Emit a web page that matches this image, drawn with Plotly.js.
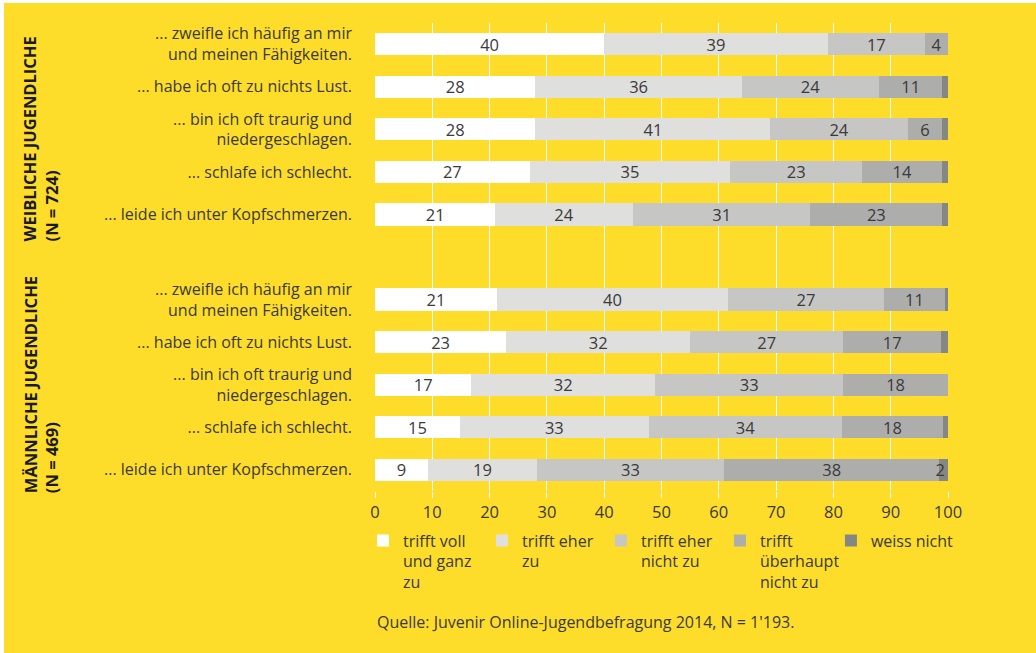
<!DOCTYPE html>
<html><head><meta charset="utf-8">
<script src="https://cdn.plot.ly/plotly-3.0.1.min.js"></script>
<style>html,body{margin:0;padding:0;background:#fff;overflow:hidden;} #chart{position:absolute;left:4px;top:3px;width:1032px;height:650px;}</style>
</head><body><div id="chart"></div><script>
// Row ids (categorical y axis), with one empty spacer row between the two groups
const rowIds = ['w1','w2','w3','w4','w5','gap','m1','m2','m3','m4','m5'];
const rowLabels = [
  '... zweifle ich häufig an mir<br>und meinen Fähigkeiten.',
  '... habe ich oft zu nichts Lust.',
  '... bin ich oft traurig und<br>niedergeschlagen.',
  '... schlafe ich schlecht.',
  '... leide ich unter Kopfschmerzen.',
  '',
  '... zweifle ich häufig an mir<br>und meinen Fähigkeiten.',
  '... habe ich oft zu nichts Lust.',
  '... bin ich oft traurig und<br>niedergeschlagen.',
  '... schlafe ich schlecht.',
  '... leide ich unter Kopfschmerzen.'
];
const seriesNames = ['trifft voll<br>und ganz<br>zu','trifft eher<br>zu','trifft eher<br>nicht zu','trifft<br>überhaupt<br>nicht zu','weiss nicht'];
// values in percent (female rows, spacer, male rows)
const trifftVoll      = [40, 28, 28, 27, 21, null, 21.3, 22.9, 16.8, 14.8, 9.2];
const trifftEher      = [39, 36, 41, 35, 24, null, 40.3, 32.1, 32.1, 33.0, 19.1];
const trifftEherNicht = [17, 24, 24, 23, 31, null, 27.2, 26.7, 32.8, 33.7, 32.6];
const trifftUeberhaupt= [4, 11, 6, 14, 23, null, 10.7, 17.1, 18.3, 17.6, 37.6];
const weissNicht      = [0, 1, 1, 1, 1, null, 0.5, 1.2, 0, 0.9, 1.5];
const xTicks = [0,10,20,30,40,50,60,70,80,90,100];
const groupLabels = ['<b>WEIBLICHE JUGENDLICHE<br>(N = 724)</b>','<b>MÄNNLICHE JUGENDLICHE<br>(N = 469)</b>'];
const sourceText = "Quelle: Juvenir Online-Jugendbefragung 2014, N = 1'193.";

const colors = ['#ffffff','#dfdfdd','#c6c6c4','#adadab','#858784'];
const series = [trifftVoll, trifftEher, trifftEherNicht, trifftUeberhaupt, weissNicht];
const FONT = '"Open Sans", "DejaVu Sans", sans-serif';
const TXT = '#3a3a3a';

const traces = series.map((vals, i) => ({
  type: 'bar', orientation: 'h',
  name: seriesNames[i],
  legend: i === 4 ? 'legend2' : 'legend',
  y: rowIds, x: vals,
  marker: {color: colors[i], line: {width: 0}},
  text: vals.map(v => (v == null || v < 1.5) ? '' : String(Math.round(v))),
  texttemplate: '%{text}',
  textposition: 'inside',
  textangle: 0,
  insidetextanchor: i === 4 ? 'end' : 'middle',
  constraintext: 'none',
  cliponaxis: false,
  textfont: {family: FONT, size: 16.5, color: TXT},
  hoverinfo: 'skip'
}));

const legendBase = {
  orientation: 'h', xanchor: 'left', y: -0.0695, yanchor: 'top',
  valign: 'top', bgcolor: 'rgba(0,0,0,0)', traceorder: 'normal',
  font: {family: FONT, size: 16, color: TXT}
};

const layout = {
  width: 1032, height: 650,
  paper_bgcolor: '#fedc2a', plot_bgcolor: '#fedc2a',
  barmode: 'stack', bargap: 0.48,
  margin: {l: 371, r: 88, t: 20, b: 162},
  font: {family: FONT, color: TXT},
  showlegend: true,
  legend: Object.assign({}, legendBase, {x: -0.021, entrywidth: 74, entrywidthmode: 'pixels'}),
  legend2: Object.assign({}, legendBase, {x: 0.7957}),
  xaxis: {
    range: [0, 100], tickvals: xTicks, showgrid: true, gridcolor: '#ffffff', gridwidth: 1,
    zeroline: false, showline: false, ticks: 'outside', ticklen: 6, tickcolor: '#ffffff',
    tickfont: {family: FONT, size: 16.5, color: TXT}, fixedrange: true
  },
  yaxis: {
    type: 'category', categoryorder: 'array', categoryarray: rowIds,
    autorange: 'reversed', tickvals: rowIds, ticktext: rowLabels,
    showgrid: false, zeroline: false, showline: false, ticks: '', ticklen: 0,
    ticklabelstandoff: 22,
    tickfont: {family: FONT, size: 16, color: TXT}, fixedrange: true, automargin: false
  },
  annotations: [
    {text: groupLabels[0], textangle: -90, xref: 'paper', yref: 'paper', x: -0.584, y: 0.752,
     xanchor: 'center', yanchor: 'middle', align: 'left', showarrow: false,
     font: {family: FONT, size: 16.5, color: '#1a1a1a'}},
    {text: groupLabels[1], textangle: -90, xref: 'paper', yref: 'paper', x: -0.584, y: 0.227,
     xanchor: 'center', yanchor: 'middle', align: 'left', showarrow: false,
     font: {family: FONT, size: 16.5, color: '#1a1a1a'}},
    {text: sourceText, xref: 'paper', yref: 'paper', x: 0, y: -0.28, xanchor: 'left', yanchor: 'middle',
     showarrow: false, font: {family: FONT, size: 16, color: TXT}}
  ],
  hovermode: false
};

Plotly.newPlot('chart', traces, layout, {displayModeBar: false, staticPlot: true});
</script></body></html>
